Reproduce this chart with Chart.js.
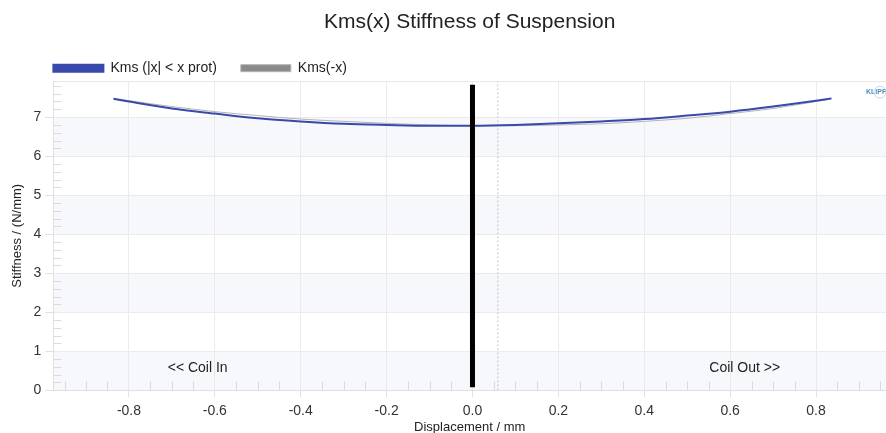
<!DOCTYPE html>
<html>
<head>
<meta charset="utf-8">
<script src="https://cdn.jsdelivr.net/npm/chart.js@4"></script>
<style>
  html, body { margin: 0; padding: 0; background: #fff; }
  #wrap { width: 886px; height: 433px; }
</style>
</head>
<body>
<div id="wrap"><canvas id="kmsChart" width="886" height="433"></canvas></div>
<script>
// values
const displacement = [-0.836, -0.8, -0.7, -0.6, -0.5, -0.4, -0.3, -0.2, -0.1, 0, 0.1, 0.2, 0.3, 0.4, 0.5, 0.6, 0.7, 0.8, 0.836];
const kmsValues   = [7.47, 7.40, 7.22, 7.09, 6.97, 6.89, 6.83, 6.80, 6.78, 6.78, 6.80, 6.84, 6.89, 6.95, 7.04, 7.14, 7.27, 7.42, 7.48];
const kmsMirrored = [7.48, 7.42, 7.27, 7.14, 7.04, 6.95, 6.89, 6.84, 6.80, 6.78, 6.78, 6.80, 6.83, 6.89, 6.97, 7.09, 7.22, 7.40, 7.47];

const xTickValues = [-0.8, -0.6, -0.4, -0.2, 0, 0.2, 0.4, 0.6, 0.8];
const yTickValues = [0, 1, 2, 3, 4, 5, 6, 7];
const shadedBands = [[0, 1], [2, 3], [4, 5], [6, 7]];

const restPositionX = [0, 0];
const restPositionY = [0.08, 7.83];
const xProtX = [0.059, 0.059];
const xProtY = [0, 7.92];

const FONT = 'Arial, "Liberation Sans", Helvetica, sans-serif';
Chart.defaults.font.family = FONT;

const toPoints = (xs, ys) => xs.map((x, i) => ({ x: x, y: ys[i] }));

// alternating bands, minor ticks, notes and logo
const decorPlugin = {
  id: 'decor',
  afterInit(chart) {
    const lg = chart.legend;
    const fit = lg.fit.bind(lg);
    lg.fit = function () { fit(); this.height -= 4; };
  },
  afterLayout(chart) {
    chart.legend.left = chart.chartArea.left - chart.options.plugins.legend.labels.padding;
  },
  beforeDraw(chart) {
    const { ctx, chartArea: a, scales: { y } } = chart;
    ctx.save();
    ctx.fillStyle = '#f7f8fc';
    shadedBands.forEach(([lo, hi]) => {
      const top = y.getPixelForValue(hi);
      const bottom = y.getPixelForValue(lo);
      ctx.fillRect(a.left, top, a.right - a.left, bottom - top);
    });
    ctx.restore();
  },
  beforeDatasetsDraw(chart) {
    const { ctx, chartArea: a, scales: { x, y } } = chart;
    ctx.save();
    ctx.strokeStyle = '#dcdcdc';
    ctx.lineWidth = 1;
    ctx.beginPath();
    for (let i = 1; i < 40; i++) {
      if (i % 5 === 0) continue;
      const py = Math.round(y.getPixelForValue(i * 0.2)) + 0.5;
      ctx.moveTo(a.left, py);
      ctx.lineTo(a.left + 8, py);
    }
    for (let i = -19; i <= 19; i++) {
      if (i % 4 === 0) continue;
      const px = Math.round(x.getPixelForValue(i * 0.05)) + 0.5;
      ctx.moveTo(px, a.bottom);
      ctx.lineTo(px, a.bottom - 9);
    }
    ctx.stroke();
    // top border
    ctx.strokeStyle = '#e6e6e6';
    ctx.beginPath();
    ctx.moveTo(a.left, a.top + 0.5);
    ctx.lineTo(a.right, a.top + 0.5);
    ctx.stroke();
    ctx.restore();
  },
  afterDraw(chart) {
    const { ctx, chartArea: a, scales: { x, y } } = chart;
    ctx.save();
    ctx.fillStyle = '#222';
    ctx.font = '14px ' + FONT;
    ctx.textBaseline = 'middle';
    ctx.textAlign = 'center';
    ctx.fillText('<< Coil In', x.getPixelForValue(-0.64), y.getPixelForValue(0.58));
    ctx.fillText('Coil Out >>', x.getPixelForValue(0.634), y.getPixelForValue(0.58));
    // logo
    ctx.font = 'bold 7px ' + FONT;
    ctx.fillStyle = '#4a8fc2';
    ctx.textAlign = 'left';
    ctx.fillText('KLIPPEL', a.right - 20, a.top + 11);
    ctx.strokeStyle = '#c9d9e6';
    ctx.beginPath();
    ctx.arc(a.right - 6, a.top + 11, 6, 0, Math.PI * 2);
    ctx.stroke();
    ctx.restore();
  }
};

new Chart(document.getElementById('kmsChart'), {
  type: 'line',
  data: {
    datasets: [
      {
        label: 'Kms (|x| < x prot)',
        data: toPoints(displacement, kmsValues),
        borderColor: '#3949ab',
        backgroundColor: '#3949ab',
        borderWidth: 2,
        pointRadius: 0,
        cubicInterpolationMode: 'monotone',
        order: 0
      },
      {
        label: 'Kms(-x)',
        data: toPoints(displacement, kmsMirrored),
        borderColor: '#b4b4b4',
        backgroundColor: '#8a8a8a',
        borderWidth: 1,
        pointRadius: 0,
        cubicInterpolationMode: 'monotone',
        order: 1
      },
      {
        label: 'rest',
        data: toPoints(restPositionX, restPositionY),
        borderColor: '#000',
        borderWidth: 5,
        pointRadius: 0,
        order: -1
      },
      {
        label: 'xprot',
        data: toPoints(xProtX, xProtY),
        borderColor: '#c4c4c4',
        borderWidth: 1,
        borderDash: [2, 2],
        pointRadius: 0,
        order: 2
      }
    ]
  },
  options: {
    responsive: false,
    animation: false,
    devicePixelRatio: 1,
    layout: { padding: { left: 10, right: 0, top: 0, bottom: 0 } },
    plugins: {
      title: {
        display: true,
        fullSize: false,
        text: 'Kms(x) Stiffness of Suspension',
        color: '#222',
        font: { size: 21, weight: 'normal' },
        padding: { top: 10, bottom: 2 }
      },
      legend: {
        position: 'top',
        align: 'start',
        labels: {
          boxWidth: 50,
          boxHeight: 7,
          padding: 24,
          color: '#222',
          font: { size: 14 },
          filter: item => item.datasetIndex < 2
        }
      },
      tooltip: { enabled: false }
    },
    scales: {
      x: {
        type: 'linear',
        min: -0.976,
        max: 0.963,
        afterBuildTicks: s => { s.ticks = xTickValues.map(v => ({ value: v })); },
        ticks: {
          callback: v => v.toFixed(1),
          color: '#333',
          font: { size: 14, lineHeight: 1.15 },
          padding: 6,
          maxRotation: 0,
          autoSkip: false
        },
        grid: { color: '#ebebeb', tickLength: 7, tickColor: '#e0e0e0' },
        border: { color: '#e0e0e0' },
        title: {
          display: true,
          text: 'Displacement / mm',
          color: '#222',
          font: { size: 13 },
          padding: { top: -6, bottom: -2 }
        }
      },
      y: {
        type: 'linear',
        min: 0,
        max: 7.92,
        afterBuildTicks: s => { s.ticks = yTickValues.map(v => ({ value: v })); },
        ticks: { color: '#333', font: { size: 14 }, padding: 4 },
        grid: { color: '#ebebeb', tickLength: 8, tickColor: '#e0e0e0' },
        border: { color: '#e0e0e0' },
        title: {
          display: true,
          text: 'Stiffness / (N/mm)',
          color: '#222',
          font: { size: 13 },
          padding: { top: 0, bottom: 4 }
        }
      }
    }
  },
  plugins: [decorPlugin]
});
</script>
</body>
</html>
